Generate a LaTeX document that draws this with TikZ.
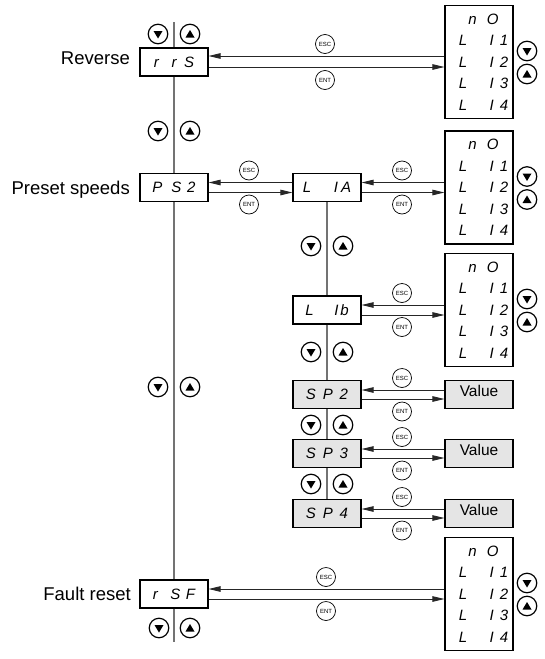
\documentclass[tikz,border=0pt]{standalone}
\usepackage{fontspec}
\setmainfont{Liberation Sans}
\newfontfamily\segfont{Liberation Sans}
\usetikzlibrary{arrows.meta}
\tikzset{
  disp/.style={draw, line width=1.1pt, minimum width=68pt, minimum height=28pt, inner sep=0pt, fill=white, font=\segfont\itshape\fontsize{15}{15}\selectfont},
  dispg/.style={disp, fill=black!10},
  listbox/.style={draw, line width=1.1pt, minimum width=68pt, minimum height=113pt, inner sep=0pt, align=center, fill=white, font=\segfont\itshape\fontsize{15}{21.5}\selectfont},
  valbox/.style={draw, line width=1.1pt, minimum width=68pt, minimum height=28pt, inner sep=0pt, fill=black!10, font=\fontsize{15.5}{15.5}\selectfont, text depth=8pt},
  keyc/.style={circle, draw, line width=0.7pt, minimum size=19pt, inner sep=0pt, fill=white, font=\fontsize{6}{6}\selectfont},
  dnkey/.style={circle, draw, line width=1.2pt, minimum size=19.5pt, inner sep=0pt,
    path picture={\fill ([shift={(-4.5pt,3pt)}]path picture bounding box.center) -- ++(9pt,0pt) -- ++(-4.5pt,-7.5pt) -- cycle;}},
  upkey/.style={circle, draw, line width=1.2pt, minimum size=19.5pt, inner sep=0pt,
    path picture={\fill ([shift={(-4.5pt,-3.5pt)}]path picture bounding box.center) -- ++(9pt,0pt) -- ++(-4.5pt,7.5pt) -- cycle;}},
  vline/.style={draw=black!55, line width=1.2pt},
  arr/.style={draw=black!85, line width=0.9pt, -{Triangle[length=12pt,width=5.5pt]}},
  lab/.style={anchor=base east, inner sep=0pt, font=\fontsize{18.5}{18.5}\selectfont}
}
\newcommand\litem[1]{\hspace*{9pt}L\hspace{22.5pt}I\hspace{6pt}#1}
\newcommand\noitem{\hspace*{9pt}n\hspace{10pt}O}
\begin{document}
\begin{tikzpicture}[x=1pt,y=-1pt]
\useasboundingbox (0,0) rectangle (544,659);

% main column
\coordinate (mtop) at (174,22);
\coordinate (mbot) at (174,642);
\node[disp] (rrs) at (174,62) {r\hspace{13pt}r\hspace{7.5pt}S};
\node[disp] (ps2) at (174,187.5) {P\hspace{9pt}S\hspace{5.8pt}2};
\node[disp] (rsf) at (174,594) {r\hspace{12.5pt}S\hspace{5.4pt}F};
\draw[vline] (mtop) -- (rrs.north);
\draw[vline] (rrs.south) -- (ps2.north);
\draw[vline] (ps2.south) -- (rsf.north);
\draw[vline] (rsf.south) -- (mbot);

\node[lab] (lrev) at (130,64.5) {Reverse};
\node[lab] (lps) at (130,194) {Preset speeds};
\node[lab] (lfr) at (131,600.5) {Fault reset};

% sub column
\node[disp] (l1a) at (327,187.5) {L\hspace{22.7pt}I\hspace{2.9pt}A};
\node[disp] (l1b) at (327,310) {L\hspace{20.7pt}I\hspace{1.8pt}b};
\node[dispg] (sp2) at (327,394.5) {S\hspace{7pt}P\hspace{6.8pt}2};
\node[dispg] (sp3) at (327,453.5) {S\hspace{7pt}P\hspace{6.8pt}3};
\node[dispg] (sp4) at (327,513.5) {S\hspace{7pt}P\hspace{6.8pt}4};
\draw[vline] (l1a.south) -- (l1b.north);
\draw[vline] (l1b.south) -- (sp2.north);
\draw[vline] (sp2.south) -- (sp3.north);
\draw[vline] (sp3.south) -- (sp4.north);

% right boxes
\node[listbox] (rb1) at (479,62) {\noitem\\\litem{1}\\\litem{2}\\\litem{3}\\\litem{4}};
\node[listbox] (rb2) at (479,187.5) {\noitem\\\litem{1}\\\litem{2}\\\litem{3}\\\litem{4}};
\node[listbox] (rb3) at (479,310) {\noitem\\\litem{1}\\\litem{2}\\\litem{3}\\\litem{4}};
\node[listbox] (rb4) at (479,594) {\noitem\\\litem{1}\\\litem{2}\\\litem{3}\\\litem{4}};
\node[valbox] (v2) at (479,394.5) {Value};
\node[valbox] (v3) at (479,453.5) {Value};
\node[valbox] (v4) at (479,513.5) {Value};

% arrows
\draw[arr] ([yshift=6pt]rb1.west) -- ([yshift=6pt]rrs.east);
\draw[arr] ([yshift=-5pt]rrs.east) -- ([yshift=-5pt]rb1.west);
\draw[arr] ([yshift=5pt]l1a.west) -- ([yshift=5pt]ps2.east);
\draw[arr] ([yshift=-5pt]ps2.east) -- ([yshift=-5pt]l1a.west);
\draw[arr] ([yshift=5pt]rb2.west) -- ([yshift=5pt]l1a.east);
\draw[arr] ([yshift=-5pt]l1a.east) -- ([yshift=-5pt]rb2.west);
\draw[arr] ([yshift=5pt]rb3.west) -- ([yshift=5pt]l1b.east);
\draw[arr] ([yshift=-5pt]l1b.east) -- ([yshift=-5pt]rb3.west);
\draw[arr] ([yshift=4.5pt]v2.west) -- ([yshift=4.5pt]sp2.east);
\draw[arr] ([yshift=-4.5pt]sp2.east) -- ([yshift=-4.5pt]v2.west);
\draw[arr] ([yshift=4.5pt]v3.west) -- ([yshift=4.5pt]sp3.east);
\draw[arr] ([yshift=-4.5pt]sp3.east) -- ([yshift=-4.5pt]v3.west);
\draw[arr] ([yshift=4.5pt]v4.west) -- ([yshift=4.5pt]sp4.east);
\draw[arr] ([yshift=-4.5pt]sp4.east) -- ([yshift=-4.5pt]v4.west);
\draw[arr] ([yshift=5pt]rb4.west) -- ([yshift=5pt]rsf.east);
\draw[arr] ([yshift=-5pt]rsf.east) -- ([yshift=-5pt]rb4.west);

% ESC / ENT keys
\node[keyc] (esc1) at (325,44) {ESC};
\node[keyc] (ent1) at (325,80) {ENT};
\node[keyc] (esc2) at (249,170.5) {ESC};
\node[keyc] (ent2) at (249,204.5) {ENT};
\node[keyc] (esc3) at (402,170.5) {ESC};
\node[keyc] (ent3) at (402,204.5) {ENT};
\node[keyc] (esc4) at (402,293) {ESC};
\node[keyc] (ent4) at (402,327) {ENT};
\node[keyc] (esc5) at (402,378) {ESC};
\node[keyc] (ent5) at (402,411.5) {ENT};
\node[keyc] (esc6) at (402,437) {ESC};
\node[keyc] (ent6) at (402,470.5) {ENT};
\node[keyc] (esc7) at (402,497) {ESC};
\node[keyc] (ent7) at (402,530.5) {ENT};
\node[keyc] (esc8) at (326,577) {ESC};
\node[keyc] (ent8) at (326,611) {ENT};

% up/down keys
\node[dnkey] (d1) at (158,34) {}; \node[upkey] (u1) at (190,34) {};
\node[dnkey] (d2) at (158,131) {}; \node[upkey] (u2) at (190,131) {};
\node[dnkey] (d3) at (158,387) {}; \node[upkey] (u3) at (190,387) {};
\node[dnkey] (d4) at (159,628) {}; \node[upkey] (u4) at (190,628) {};
\node[dnkey] (d5) at (311,246) {}; \node[upkey] (u5) at (343,246) {};
\node[dnkey] (d6) at (311,352) {}; \node[upkey] (u6) at (343,352) {};
\node[dnkey] (d7) at (311,425) {}; \node[upkey] (u7) at (343,425) {};
\node[dnkey] (d8) at (311,484) {}; \node[upkey] (u8) at (343,484) {};
\node[dnkey] (d9) at (527,51) {}; \node[upkey] (u9) at (527,74) {};
\node[dnkey] (d10) at (527,176.5) {}; \node[upkey] (u10) at (527,199.5) {};
\node[dnkey] (d11) at (527,299) {}; \node[upkey] (u11) at (527,322) {};
\node[dnkey] (d12) at (527,583) {}; \node[upkey] (u12) at (527,606) {};
\end{tikzpicture}
\end{document}
